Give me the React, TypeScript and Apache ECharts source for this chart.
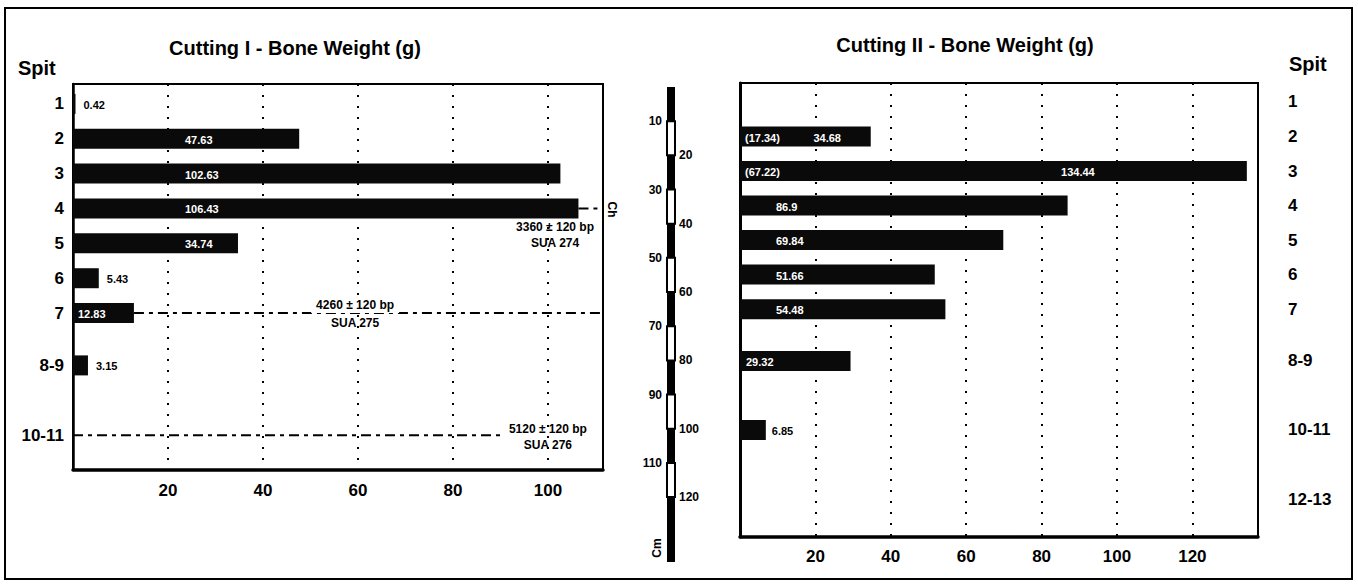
import React, { useEffect, useRef } from "react";
import * as echarts from "echarts";

// ---------------- data ----------------
const leftSpits = ["1", "2", "3", "4", "5", "6", "7", "8-9", "10-11"];
const leftSpitPos = [1, 2, 3, 4, 5, 6, 7, 8.5, 10.5];
const leftWeights: (number | null)[] = [0.42, 47.63, 102.63, 106.43, 34.74, 5.43, 12.83, 3.15, null];

const rightSpits = ["1", "2", "3", "4", "5", "6", "7", "8-9", "10-11", "12-13"];
const rightSpitPos = [1, 2, 3, 4, 5, 6, 7, 8.5, 10.5, 12.5];
const rightWeights: (number | null)[] = [null, 34.68, 134.44, 86.9, 69.84, 51.66, 54.48, 29.32, 6.85, null];
const rightBracket: (number | null)[] = [null, 17.34, 67.22, null, null, null, null, null, null, null];

const leftXTicks = [20, 40, 60, 80, 100];
const rightXTicks = [20, 40, 60, 80, 100, 120];

const dateSpitPos = [4, 7, 10.5];
const dateText = ["3360 ± 120 bp", "4260 ± 120 bp", "5120 ± 120 bp"];
const dateLab = ["SUA 274", "SUA 275", "SUA 276"];

const depthTicks = [10, 20, 30, 40, 50, 60, 70, 80, 90, 100, 110, 120];
const depthEnd = 139;

// ---------------- style constants ----------------
const FONT = '"Liberation Sans", Arial, Helvetica, sans-serif';
const LEFT_MAX = 111.6;
const RIGHT_MAX = 137.4;
const BAR_H = 20;
const DASH = [10, 5, 4, 5];

function makeBarRenderer(isLeft: boolean) {
  return (params: any, api: any) => {
    const v = api.value(0);
    const pos = api.value(1);
    const idx = api.value(2);
    const s = api.coord([0, pos]);
    const e = api.coord([v, pos]);
    const w = Math.max(e[0] - s[0], 2.5);
    const children: any[] = [
      { type: "rect", shape: { x: s[0], y: s[1] - BAR_H / 2, width: w, height: BAR_H }, style: { fill: "#0a0a0a" } },
    ];
    const txt = (text: string, x: number, fill: string, align = "left") => ({
      type: "text",
      style: { text, x, y: s[1] + 1, fill, fontSize: 11, fontWeight: "bold", fontFamily: FONT, align, verticalAlign: "middle" },
    });
    const label = String(v);
    if (isLeft) {
      if (v >= 20) children.push(txt(label, s[0] + 112, "#fff"));
      else if (v >= 10) children.push(txt(label, s[0] + 5, "#fff"));
      else children.push(txt(label, s[0] + w + 8, "#000"));
    } else {
      const br = rightBracket[idx];
      if (br != null) {
        children.push(txt("(" + br + ")", s[0] + 5, "#fff"));
        const m = api.coord([(v * 2) / 3, pos]);
        children.push(txt(label, m[0], "#fff", "center"));
      } else if (v >= 40) children.push(txt(label, s[0] + 36, "#fff"));
      else if (v >= 10) children.push(txt(label, s[0] + 6, "#fff"));
      else children.push(txt(label, s[0] + w + 6, "#000"));
    }
    return { type: "group", children };
  };
}

// annotation text anchors (style placement, in axis units) and their texts
const annTexts = [
  dateText[0] + "\n" + dateLab[0],
  dateText[1],
  dateLab[1],
  dateText[2] + "\n" + dateLab[2],
];
const annAnchors = [
  [101.5, dateSpitPos[0] + 0.75],
  [59.4, dateSpitPos[1] - 0.23],
  [59.4, dateSpitPos[1] + 0.27],
  [100, dateSpitPos[2] + 0.05],
];

function buildOption(): any {
  const leftData = leftWeights
    .map((w, i) => (w == null ? null : [w, leftSpitPos[i], i]))
    .filter((d) => d != null);
  const rightData = rightWeights
    .map((w, i) => (w == null ? null : [w, rightSpitPos[i], i]))
    .filter((d) => d != null);

  const segBounds = [0, ...depthTicks, depthEnd];
  const segData = segBounds.slice(0, -1).map((b, i) => [b, segBounds[i + 1], i]);

  const axisLabelBase = { color: "#000", fontWeight: "bold", fontFamily: FONT };

  const dateLines = [
    [[leftWeights[3] as number, dateSpitPos[0]], [LEFT_MAX, dateSpitPos[0]]],
    [[leftWeights[6] as number, dateSpitPos[1]], [LEFT_MAX, dateSpitPos[1]]],
    [[0, dateSpitPos[2]], [90, dateSpitPos[2]]],
  ];

  return {
    animation: false,
    backgroundColor: "#fff",
    grid: [
      { left: 73, top: 84, width: 530, height: 386, show: true, borderColor: "#000", borderWidth: 2 },
      { left: 740, top: 83, width: 518, height: 454, show: true, borderColor: "#000", borderWidth: 2 },
      { left: 667, top: 87, width: 8, height: 475 },
    ],
    xAxis: [
      {
        gridIndex: 0, type: "value", min: 0, max: LEFT_MAX, interval: 20,
        axisLine: { show: true, onZero: false, lineStyle: { color: "#000", width: 3.5 } },
        axisTick: { show: false },
        axisLabel: { ...axisLabelBase, fontSize: 17, margin: 12, formatter: (v: number) => (leftXTicks.includes(v) ? String(v) : "") },
        splitLine: { show: true, lineStyle: { color: "#000", width: 2, type: [2, 9] } },
      },
      {
        gridIndex: 1, type: "value", min: 0, max: RIGHT_MAX, interval: 20,
        axisLine: { show: true, onZero: false, lineStyle: { color: "#000", width: 3.5 } },
        axisTick: { show: false },
        axisLabel: { ...axisLabelBase, fontSize: 17, margin: 11, formatter: (v: number) => (rightXTicks.includes(v) ? String(v) : "") },
        splitLine: { show: true, lineStyle: { color: "#000", width: 2, type: [2, 9] } },
      },
      { gridIndex: 2, type: "value", min: 0, max: 1, show: false },
    ],
    yAxis: [
      {
        gridIndex: 0, type: "value", inverse: true, min: 0.43, max: 11.5,
        axisLine: { show: true, lineStyle: { color: "#000", width: 2.5 } },
        axisTick: { show: false }, splitLine: { show: false },
        axisLabel: {
          ...axisLabelBase, fontSize: 17, margin: 9, customValues: leftSpitPos,
          formatter: (v: number) => { const k = leftSpitPos.indexOf(v); return k >= 0 ? leftSpits[k] : ""; },
        },
      },
      {
        gridIndex: 1, type: "value", inverse: true, min: 0.45, max: 13.6, position: "right",
        axisLine: { show: true, lineStyle: { color: "#000", width: 3 } },
        axisTick: { show: false }, splitLine: { show: false },
        axisLabel: {
          ...axisLabelBase, fontSize: 17, margin: 30, customValues: rightSpitPos,
          formatter: (v: number) => { const k = rightSpitPos.indexOf(v); return k >= 0 ? rightSpits[k] : ""; },
        },
      },
      {
        gridIndex: 2, type: "value", inverse: true, min: 0, max: depthEnd, position: "left",
        axisLine: { show: false }, axisTick: { show: false }, splitLine: { show: false },
        axisLabel: {
          ...axisLabelBase, fontSize: 12, margin: 5,
          customValues: depthTicks.filter((_, i) => i % 2 === 0),
          formatter: (v: number) => String(v),
        },
      },
      {
        gridIndex: 2, type: "value", inverse: true, min: 0, max: depthEnd, position: "right",
        axisLine: { show: false }, axisTick: { show: false }, splitLine: { show: false },
        axisLabel: {
          ...axisLabelBase, fontSize: 12, margin: 4, padding: [0, 0, 10, 0],
          customValues: depthTicks.filter((_, i) => i % 2 === 1),
          formatter: (v: number) => String(v),
        },
      },
    ],
    series: [
      {
        type: "custom", name: "Cutting I", xAxisIndex: 0, yAxisIndex: 0, coordinateSystem: "cartesian2d",
        encode: { x: 0, y: 1 }, data: leftData, renderItem: makeBarRenderer(true), z: 3,
      },
      {
        type: "custom", name: "Cutting II", xAxisIndex: 1, yAxisIndex: 1, coordinateSystem: "cartesian2d",
        encode: { x: 0, y: 1 }, data: rightData, renderItem: makeBarRenderer(false), z: 3,
      },
      {
        type: "custom", name: "Depth", xAxisIndex: 2, yAxisIndex: 2, coordinateSystem: "cartesian2d",
        encode: { y: [0, 1] }, data: segData, clip: false,
        renderItem: (params: any, api: any) => {
          const a = api.coord([0, api.value(0)]);
          const b = api.coord([1, api.value(1)]);
          const black = api.value(2) % 2 === 0;
          return {
            type: "rect",
            shape: { x: a[0], y: a[1], width: b[0] - a[0], height: b[1] - a[1] },
            style: black ? { fill: "#000" } : { fill: "#fff", stroke: "#000", lineWidth: 2 },
          };
        },
      },
      ...dateLines.map((d) => ({
        type: "line", xAxisIndex: 0, yAxisIndex: 0, data: d, symbol: "none", silent: true,
        lineStyle: { color: "#000", width: 2, type: DASH }, z: 2,
      })),
      {
        type: "custom", name: "Dates", xAxisIndex: 0, yAxisIndex: 0, coordinateSystem: "cartesian2d",
        encode: { x: 0, y: 1 }, data: annAnchors.map((a, i) => [a[0], a[1], i]), clip: false, z: 4, silent: true,
        renderItem: (params: any, api: any) => {
          const p = api.coord([api.value(0), api.value(1)]);
          const i = api.value(2);
          return {
            type: "text",
            style: {
              text: annTexts[i], x: p[0], y: p[1], fill: "#000", fontSize: 12, fontWeight: "bold", fontFamily: FONT,
              align: "center", verticalAlign: "middle", lineHeight: 16,
              backgroundColor: i === 1 ? "#fff" : undefined, padding: i === 1 ? [0, 5] : 0,
            },
          };
        },
      },
      {
        type: "custom", name: "Ch", xAxisIndex: 0, yAxisIndex: 0, coordinateSystem: "cartesian2d",
        encode: { x: 0, y: 1 }, data: [[LEFT_MAX, dateSpitPos[0]]], clip: false, z: 4, silent: true,
        renderItem: (params: any, api: any) => {
          const p = api.coord([api.value(0), api.value(1)]);
          return {
            type: "text", x: p[0] + 9, y: p[1] + 1, rotation: -Math.PI / 2,
            style: { text: "Ch", x: 0, y: 0, fill: "#000", fontSize: 12, fontWeight: "bold", fontFamily: FONT, align: "center", verticalAlign: "middle" },
          };
        },
      },
    ],
    graphic: [
      { type: "rect", shape: { x: 5, y: 8, width: 1347, height: 571 }, style: { fill: "none", stroke: "#000", lineWidth: 2 }, z: 10 },
      { type: "text", x: 295, y: 48, style: { text: "Cutting I - Bone Weight (g)", fill: "#000", fontSize: 20, fontWeight: "bold", fontFamily: FONT, align: "center", verticalAlign: "middle" } },
      { type: "text", x: 965, y: 45, style: { text: "Cutting II - Bone Weight (g)", fill: "#000", fontSize: 20, fontWeight: "bold", fontFamily: FONT, align: "center", verticalAlign: "middle" } },
      { type: "text", x: 18, y: 68, style: { text: "Spit", fill: "#000", fontSize: 20, fontWeight: "bold", fontFamily: FONT, align: "left", verticalAlign: "middle" } },
      { type: "text", x: 1289, y: 64, style: { text: "Spit", fill: "#000", fontSize: 20, fontWeight: "bold", fontFamily: FONT, align: "left", verticalAlign: "middle" } },
      { type: "text", x: 657, y: 548, rotation: Math.PI / 2, style: { text: "Cm", fill: "#000", fontSize: 12, fontWeight: "bold", fontFamily: FONT, align: "center", verticalAlign: "middle" } },
    ],
  };
}

export default function App() {
  const ref = useRef<HTMLDivElement>(null);
  useEffect(() => {
    if (!ref.current) return;
    const chart = echarts.init(ref.current, undefined, { renderer: "svg" });
    chart.setOption(buildOption());
    return () => chart.dispose();
  }, []);
  return (
    <div
      ref={ref}
      style={{ position: "fixed", left: 0, top: 0, width: 1358, height: 584, background: "#fff" }}
    />
  );
}
